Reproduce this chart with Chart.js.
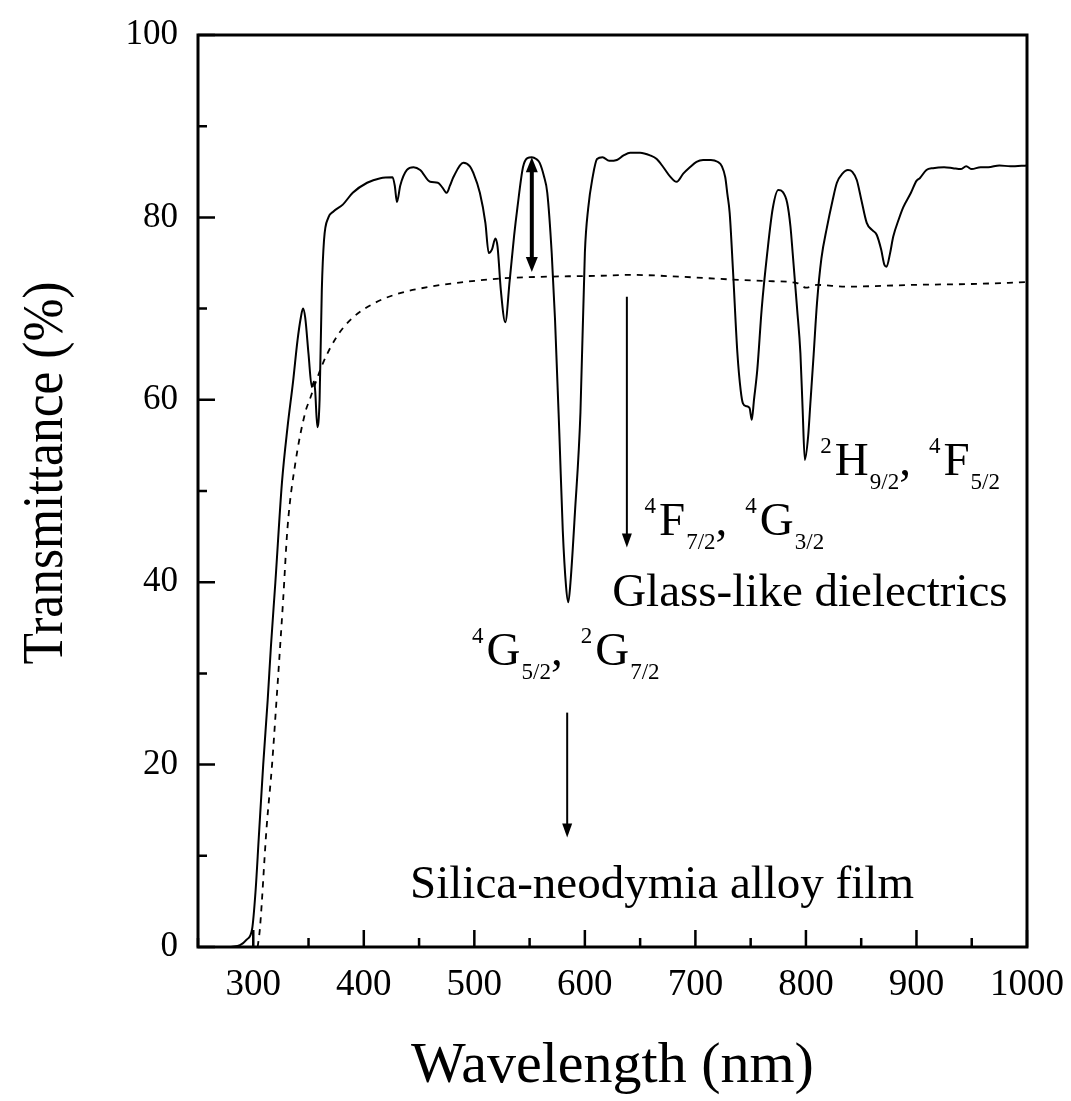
<!DOCTYPE html>
<html>
<head>
<meta charset="utf-8">
<script src="https://cdn.jsdelivr.net/npm/chart.js@4.4.1/dist/chart.umd.min.js"></script>
<style>
  html, body { margin: 0; padding: 0; background: #fff; }
  #wrap { width: 1071px; height: 1101px; }
</style>
</head>
<body>
<div id="wrap"><canvas id="specChart" width="1071" height="1101"></canvas></div>
<script>
// Silica-neodymia alloy film (solid curve)
const filmWavelength = [280, 288, 294, 299, 302, 305, 309, 313, 316, 320, 326, 331, 336, 340, 343, 345, 347, 350, 353, 355, 356, 358, 360, 362, 364, 368, 372, 381, 390, 403, 415, 426, 428, 430, 433, 439, 445, 451, 460, 467, 471, 475, 478, 481, 490, 496, 499, 505, 510, 513, 516, 519, 521, 524, 528, 532, 536, 539, 544, 548, 552, 556, 559, 563, 566, 570, 573, 577, 580, 583, 585, 587, 591, 596, 600, 603, 607, 611, 616, 622, 629, 635, 641, 650, 659, 665, 671, 677, 683, 689, 695, 701, 707, 714, 720, 724, 727, 729, 731, 734, 738, 741, 743, 746, 749, 751, 753, 756, 760, 765, 770, 775, 779, 783, 786, 788, 792, 795, 797, 799, 802, 804, 807, 810, 814, 819, 824, 828, 833, 838, 842, 846, 850, 855, 860, 864, 868, 871, 873, 876, 879, 884, 888, 895, 900, 903, 909, 915, 925, 933, 940, 945, 950, 958, 965, 975, 985, 1000];
const filmTransmittance = [0, 0.2, 0.8, 2, 6, 12, 20, 27, 33, 40, 51, 57, 62, 66.5, 69, 70, 69, 65, 61.4, 62, 61, 57, 60, 72, 77.5, 80, 80.6, 81.4, 82.7, 83.8, 84.3, 84.4, 83.5, 81.7, 83.5, 85.2, 85.5, 85.2, 83.9, 83.8, 83.3, 82.7, 83.5, 84.4, 86, 85.6, 84.9, 82.7, 79.4, 76.1, 76.5, 77.7, 76.8, 72, 68.5, 73.1, 78, 81.1, 85.5, 86.5, 86.6, 86.4, 86, 84.5, 82.7, 76.1, 68.8, 56, 45.7, 39.5, 37.8, 40, 47.6, 58.6, 76.1, 81, 84.4, 86.4, 86.6, 86.2, 86.3, 86.8, 87.1, 87.1, 86.8, 86.4, 85.5, 84.5, 83.9, 84.8, 85.5, 86.1, 86.3, 86.3, 86.1, 85.6, 84.4, 82.5, 80.5, 74.2, 65.1, 61, 59.6, 59.3, 59.1, 57.8, 60, 63.3, 70, 76.1, 81, 83, 82.8, 81.6, 79, 76.1, 70, 65.1, 59, 53.4, 56, 59.6, 65, 70.6, 75.5, 78.9, 81.8, 83.8, 84.8, 85.2, 85, 84.1, 82, 79.4, 78.6, 78.1, 76.5, 74.8, 74.6, 76, 77.9, 79.8, 81.1, 82.7, 84, 84.3, 85.2, 85.4, 85.5, 85.4, 85.3, 85.6, 85.3, 85.5, 85.5, 85.7, 85.6, 85.7];

// Glass-like dielectrics (dashed curve)
const glassWavelength = [304, 306, 312, 317, 321, 327, 331, 338, 347, 351, 363, 376, 390, 408, 430, 460, 490, 523, 566, 614, 641, 686, 731, 770, 792, 800, 810, 837, 870, 897, 950, 1000];
const glassTransmittance = [0, 2, 13, 20, 27, 38, 46, 53, 58.6, 60, 64, 67, 69, 70.5, 71.6, 72.4, 72.9, 73.3, 73.5, 73.6, 73.7, 73.5, 73.2, 73, 72.8, 72.3, 72.6, 72.4, 72.5, 72.6, 72.7, 72.9];

const xTickValues = [300, 400, 500, 600, 700, 800, 900, 1000];
const xMinorTicks = [250, 350, 450, 550, 650, 750, 850, 950];
const yTickValues = [0, 20, 40, 60, 80, 100];
const yMinorTicks = [10, 30, 50, 70, 90];

const SERIF = "'Liberation Serif', 'Times New Roman', serif";

function toPoints(xs, ys) {
  return xs.map((x, i) => ({ x: x, y: ys[i] }));
}

// draw a term symbol like 4G5/2 : [sup, letter, sub]
function drawTerms(ctx, x, y, terms) {
  const big = 47, small = 23;
  terms.forEach((t, i) => {
    ctx.font = small + 'px ' + SERIF;
    ctx.fillText(t[0], x, y - 22);
    x += ctx.measureText(t[0]).width + 3;
    ctx.font = big + 'px ' + SERIF;
    ctx.fillText(t[1], x, y);
    x += ctx.measureText(t[1]).width + 1;
    ctx.font = small + 'px ' + SERIF;
    ctx.fillText(t[2], x, y + 14);
    x += ctx.measureText(t[2]).width;
    if (i < terms.length - 1) {
      ctx.font = big + 'px ' + SERIF;
      ctx.fillText(',', x, y);
      x += ctx.measureText(',').width + 18;
    }
  });
}

function arrow(ctx, x, y1, y2, width, hw, hl, both) {
  ctx.lineWidth = width;
  ctx.beginPath();
  ctx.moveTo(x, both ? y1 + hl * 0.6 : y1);
  ctx.lineTo(x, y2 - hl * 0.6);
  ctx.stroke();
  ctx.beginPath();
  ctx.moveTo(x, y2);
  ctx.lineTo(x - hw, y2 - hl);
  ctx.lineTo(x + hw, y2 - hl);
  ctx.closePath();
  ctx.fill();
  if (both) {
    ctx.beginPath();
    ctx.moveTo(x, y1);
    ctx.lineTo(x - hw, y1 + hl);
    ctx.lineTo(x + hw, y1 + hl);
    ctx.closePath();
    ctx.fill();
  }
}

const framePlugin = {
  id: 'frame',
  afterDatasetsDraw(chart) {
    const ctx = chart.ctx;
    const a = chart.chartArea;
    const xs = chart.scales.x, ys = chart.scales.y;
    ctx.save();
    ctx.strokeStyle = '#000';
    ctx.fillStyle = '#000';
    ctx.lineCap = 'butt';

    // inward ticks
    ctx.lineWidth = 2.5;
    ctx.beginPath();
    xTickValues.forEach(v => { const p = xs.getPixelForValue(v); ctx.moveTo(p, a.bottom); ctx.lineTo(p, a.bottom - 17); });
    xMinorTicks.forEach(v => { const p = xs.getPixelForValue(v); ctx.moveTo(p, a.bottom); ctx.lineTo(p, a.bottom - 9); });
    yTickValues.forEach(v => { const p = ys.getPixelForValue(v); ctx.moveTo(a.left, p); ctx.lineTo(a.left + 17, p); });
    yMinorTicks.forEach(v => { const p = ys.getPixelForValue(v); ctx.moveTo(a.left, p); ctx.lineTo(a.left + 9, p); });
    ctx.stroke();

    // box
    ctx.lineWidth = 3;
    ctx.strokeRect(a.left, a.top, a.right - a.left, a.bottom - a.top);

    // arrows
    arrow(ctx, xs.getPixelForValue(552), ys.getPixelForValue(86.6), ys.getPixelForValue(74), 4, 6, 15, true);
    arrow(ctx, xs.getPixelForValue(638), ys.getPixelForValue(71.3), ys.getPixelForValue(43.8), 2, 5, 14, false);
    arrow(ctx, xs.getPixelForValue(584), ys.getPixelForValue(25.7), ys.getPixelForValue(12), 2, 5, 14, false);

    // labels
    ctx.textBaseline = 'alphabetic';
    ctx.textAlign = 'left';
    drawTerms(ctx, xs.getPixelForValue(813), ys.getPixelForValue(51.8), [['2', 'H', '9/2'], ['4', 'F', '5/2']]);
    drawTerms(ctx, xs.getPixelForValue(654), ys.getPixelForValue(45.2), [['4', 'F', '7/2'], ['4', 'G', '3/2']]);
    drawTerms(ctx, xs.getPixelForValue(498), ys.getPixelForValue(30.9), [['4', 'G', '5/2'], ['2', 'G', '7/2']]);
    ctx.font = '47px ' + SERIF;
    ctx.fillText('Glass-like dielectrics', xs.getPixelForValue(624.7), ys.getPixelForValue(37.4));
    ctx.fillText('Silica-neodymia alloy film', xs.getPixelForValue(441.9), ys.getPixelForValue(5.4));

    // axis titles
    ctx.textAlign = 'center';
    ctx.font = '58px ' + SERIF;
    ctx.fillText('Wavelength (nm)', (a.left + a.right) / 2, 1082);
    ctx.save();
    ctx.translate(62, 473);
    ctx.rotate(-Math.PI / 2);
    ctx.font = '56px ' + SERIF;
    const w = ctx.measureText('Transmittance (%)').width;
    ctx.scale(383 / w, 1);
    ctx.fillText('Transmittance (%)', 0, 0);
    ctx.restore();
    ctx.restore();
  }
};

const ctx = document.getElementById('specChart').getContext('2d');
new Chart(ctx, {
  type: 'line',
  data: {
    datasets: [
      {
        label: 'Silica-neodymia alloy film',
        data: toPoints(filmWavelength, filmTransmittance),
        borderColor: '#000',
        borderWidth: 2,
        pointRadius: 0,
        cubicInterpolationMode: 'monotone',
        fill: false
      },
      {
        label: 'Glass-like dielectrics',
        data: toPoints(glassWavelength, glassTransmittance),
        borderColor: '#000',
        borderWidth: 1.8,
        borderDash: [6, 6],
        pointRadius: 0,
        cubicInterpolationMode: 'monotone',
        fill: false
      }
    ]
  },
  options: {
    responsive: false,
    animation: false,
    devicePixelRatio: 1,
    layout: { padding: { left: 0, right: 44, top: 35, bottom: 0 } },
    plugins: { legend: { display: false }, tooltip: { enabled: false } },
    scales: {
      x: {
        type: 'linear',
        min: 250,
        max: 1000,
        afterBuildTicks: s => { s.ticks = xTickValues.map(v => ({ value: v })); },
        afterFit: s => { s.height = 154; s.paddingLeft = 0; s.paddingRight = 0; },
        grid: { display: false, drawTicks: false },
        border: { display: false },
        ticks: { color: '#000', padding: 16, maxRotation: 0, callback: v => String(v), font: { family: SERIF, size: 37 } },
        title: { display: false }
      },
      y: {
        min: 0,
        max: 100,
        afterBuildTicks: s => { s.ticks = yTickValues.map(v => ({ value: v })); },
        afterFit: s => { s.width = 198; s.paddingTop = 0; s.paddingBottom = 0; },
        grid: { display: false, drawTicks: false },
        border: { display: false },
        ticks: { color: '#000', padding: 20, callback: v => String(v), font: { family: SERIF, size: 35 } },
        title: { display: false }
      }
    }
  },
  plugins: [framePlugin]
});
</script>
</body>
</html>
